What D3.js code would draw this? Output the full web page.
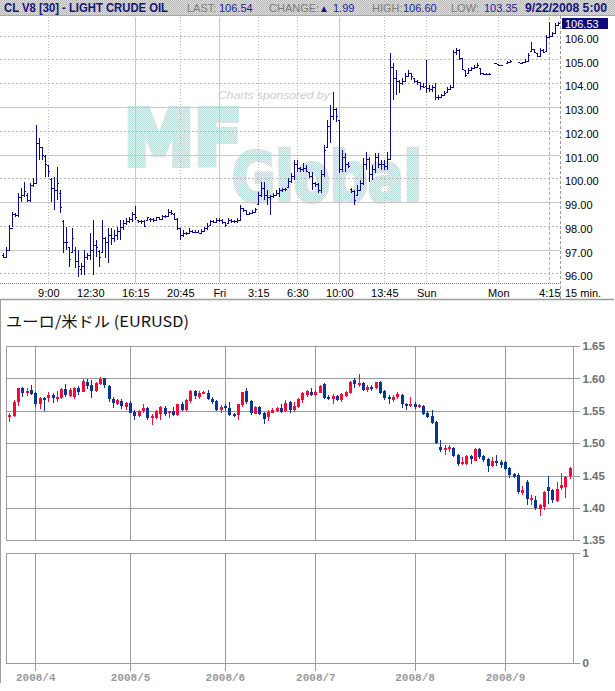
<!DOCTYPE html>
<html><head><meta charset="utf-8">
<script src="https://cdn.jsdelivr.net/npm/d3@7"></script>
<style>body{margin:0;background:#fff}svg{display:block}</style>
</head><body>
<svg id="c" width="615" height="691"></svg>
<script>
// ---------- Crude oil 15-min bars (index-based) ----------
const oilOpen = [96.75,96.70,97.00,97.90,98.50,98.45,99.20,99.30,99.30,99.10,99.70,99.80,101.50,101.30,100.95,100.55,99.95,99.60,99.50,99.40,98.20,97.30,97.10,96.90,97.00,96.50,96.20,96.30,96.70,96.75,97.00,97.20,96.95,96.90,97.50,97.30,97.60,97.50,97.60,97.80,97.95,98.10,98.20,98.30,98.50,98.24,98.20,98.20,98.25,98.30,98.30,98.25,98.35,98.30,98.40,98.40,98.60,98.50,98.30,97.89,97.60,97.70,97.70,97.80,97.75,97.75,97.70,97.80,97.90,98.03,98.20,98.15,98.25,98.25,98.15,98.10,98.25,98.20,98.20,98.25,98.74,98.65,98.50,98.55,98.60,98.90,99.30,99.60,99.30,99.20,99.25,99.30,99.40,99.50,99.55,99.65,99.90,100.10,100.60,100.45,100.40,100.45,100.28,100.10,99.80,99.75,99.50,100.20,101.33,102.20,102.60,102.90,102.45,100.40,100.90,100.60,99.55,99.45,99.30,99.51,99.80,100.60,100.80,100.20,100.40,100.90,100.60,100.60,100.50,100.80,104.70,104.20,104.10,104.00,104.10,104.30,104.42,104.21,104.10,104.05,103.90,103.90,103.80,103.75,103.85,103.40,103.40,103.50,103.65,103.75,103.86,105.30,105.40,105.05,104.56,104.42,104.56,104.65,104.70,104.63,104.45,104.40,104.40,null,104.85,104.80,104.75,null,104.85,104.91,null,null,104.90,104.85,104.90,104.95,105.35,105.43,105.26,105.15,105.40,105.37,105.95,106.00,106.10,106.45];
const oilHigh = [96.84,97.12,98.03,98.60,98.53,99.37,99.58,99.86,99.37,99.79,100.00,102.24,101.68,101.33,100.98,100.56,100.00,100.07,100.49,99.51,98.24,97.96,97.12,97.89,97.12,96.98,96.42,96.98,96.84,97.68,98.24,97.40,96.98,98.24,97.54,97.89,97.89,97.82,97.96,98.24,98.24,98.31,98.39,98.60,98.83,98.24,98.24,98.24,98.39,98.31,98.31,98.39,98.39,98.46,98.46,98.69,98.67,98.53,98.31,97.89,97.82,97.75,97.89,97.82,97.82,97.82,97.85,97.96,98.10,98.24,98.24,98.31,98.31,98.27,98.17,98.31,98.27,98.24,98.31,98.88,98.74,98.67,98.60,98.67,98.74,99.44,99.86,99.86,99.51,99.30,99.37,99.51,99.58,99.58,99.58,100.00,100.21,100.77,100.77,100.49,100.63,100.56,100.28,100.28,99.86,99.79,100.35,101.40,102.45,103.08,103.65,102.94,102.45,101.19,101.05,100.70,99.58,99.51,99.72,99.93,100.84,101.12,100.91,100.56,101.05,101.05,100.77,100.77,101.12,105.26,104.84,104.56,104.14,104.21,104.42,104.56,104.42,104.21,104.14,104.07,104.00,104.98,103.93,103.93,104.00,103.51,103.55,103.69,103.86,103.93,105.40,105.47,105.43,105.05,104.56,104.63,104.70,104.77,104.84,104.63,104.45,104.45,104.42,null,104.87,104.80,104.77,null,104.95,104.98,null,null,104.91,104.91,105.01,105.26,105.75,105.43,105.26,105.47,105.43,106.03,106.59,106.17,106.52,106.59];
const oilLow = [96.63,96.63,96.98,97.96,98.35,98.39,99.02,99.23,99.02,99.02,99.65,99.78,100.77,100.77,100.07,100.07,99.02,98.67,99.09,98.53,96.84,96.98,96.28,96.84,96.21,95.86,95.93,95.93,96.56,96.56,95.93,96.70,96.28,96.84,96.63,96.42,97.19,97.33,97.40,97.40,97.82,98.03,98.10,98.17,98.24,98.13,98.08,97.94,98.24,98.17,98.17,98.24,98.24,98.24,98.31,98.39,98.46,98.24,97.82,97.40,97.54,97.61,97.68,97.68,97.68,97.68,97.68,97.75,97.82,98.03,98.10,98.10,98.17,98.08,97.96,98.10,98.10,98.10,98.10,98.24,98.60,98.46,98.46,98.53,98.60,98.88,99.23,99.09,98.88,98.46,99.16,99.30,99.23,99.44,99.48,99.65,99.79,99.93,100.28,100.28,100.28,100.28,100.00,99.51,99.65,99.37,99.37,100.07,101.33,101.47,102.45,102.38,100.21,100.28,100.28,100.42,99.37,98.88,99.30,99.51,99.72,100.35,99.86,99.93,100.21,100.42,100.35,100.35,100.35,100.77,103.30,103.51,103.58,103.93,104.07,104.28,104.14,104.00,103.93,103.72,103.79,103.58,103.65,103.65,103.30,103.30,103.37,103.46,103.65,103.72,103.86,105.19,104.98,104.56,104.28,104.42,104.56,104.63,104.70,104.35,104.35,104.35,104.35,null,104.81,104.73,104.73,null,104.84,104.91,null,null,104.84,104.84,104.87,104.91,105.33,105.26,105.09,105.12,105.26,105.37,105.89,105.96,106.10,106.45];
const oilClose = [96.70,97.00,97.90,98.50,98.45,99.20,99.30,99.45,99.10,99.70,99.80,101.50,101.30,101.00,100.60,100.30,99.60,99.50,99.80,98.80,97.30,97.30,96.60,97.50,96.50,96.30,96.30,96.70,96.75,97.00,97.20,97.10,96.70,97.50,97.30,97.60,97.50,97.60,97.80,97.95,98.10,98.20,98.30,98.50,98.35,98.20,98.20,98.00,98.35,98.30,98.25,98.35,98.30,98.40,98.40,98.60,98.55,98.30,97.90,97.60,97.70,97.70,97.80,97.75,97.75,97.70,97.80,97.90,98.00,98.20,98.15,98.25,98.25,98.15,98.05,98.25,98.20,98.20,98.25,98.75,98.65,98.50,98.55,98.60,98.70,99.30,99.60,99.30,99.20,99.25,99.30,99.40,99.50,99.55,99.55,99.90,100.10,100.60,100.45,100.40,100.45,100.30,100.10,99.80,99.75,99.50,100.20,101.20,102.20,102.60,102.90,102.60,100.40,100.90,100.60,100.50,99.45,99.10,99.50,99.80,100.60,100.80,100.20,100.40,100.90,100.60,100.60,100.50,100.80,104.70,104.20,104.10,104.00,104.10,104.30,104.45,104.30,104.10,104.05,103.90,103.85,103.80,103.75,103.85,103.40,103.40,103.50,103.60,103.75,103.85,105.30,105.40,105.05,104.60,104.35,104.55,104.65,104.70,104.75,104.45,104.40,104.40,104.40,null,104.85,104.75,104.75,null,104.90,104.95,null,null,104.85,104.90,104.95,105.20,105.45,105.30,105.15,105.40,105.30,105.95,106.00,106.10,106.45,106.53];
const oilPriceTicks = [96,97,98,99,100,101,102,103,104,105,106];
const oilTickIdx = [15,29,44,59,72,85,98,112,127,141,165,182];
const oilTickLabels = ["9:00","12:30","16:15","20:45","Fri","3:15","6:30","10:00","13:45","Sun","Mon","4:15"];
const oilLast = 106.53;

// ---------- EUR/USD daily candles ----------
const eurOpen = [1.5416,1.5416,1.5623,1.5855,1.5778,1.5819,1.5778,1.5612,1.5700,1.5690,1.5742,1.5695,1.5700,1.5829,1.5731,1.5705,1.5855,1.5793,1.5948,1.5896,1.5804,1.5907,1.6000,1.5886,1.5680,1.5602,1.5649,1.5561,1.5623,1.5484,1.5422,1.5494,1.5545,1.5391,1.5391,1.5447,1.5545,1.5468,1.5494,1.5432,1.5597,1.5509,1.5649,1.5809,1.5716,1.5757,1.5778,1.5680,1.5654,1.5520,1.5571,1.5545,1.5447,1.5422,1.5576,1.5804,1.5649,1.5458,1.5561,1.5468,1.5406,1.5468,1.5499,1.5545,1.5494,1.5638,1.5509,1.5561,1.5664,1.5742,1.5788,1.5742,1.5783,1.5907,1.5716,1.5680,1.5731,1.5664,1.5731,1.5778,1.5974,1.5907,1.5932,1.5819,1.5860,1.5845,1.5948,1.5804,1.5705,1.5664,1.5705,1.5742,1.5602,1.5587,1.5612,1.5561,1.5571,1.5468,1.5416,1.5329,1.4942,1.4916,1.4916,1.4926,1.4813,1.4684,1.4673,1.4797,1.4735,1.4916,1.4802,1.4751,1.4642,1.4720,1.4704,1.4704,1.4611,1.4529,1.4503,1.4230,1.4395,1.4126,1.4116,1.3972,1.4013,1.4322,1.4271,1.4106,1.4307,1.4322,1.4493];
const eurHigh = [1.5468,1.5664,1.5855,1.5870,1.5845,1.5896,1.5793,1.5716,1.5716,1.5793,1.5767,1.5809,1.5845,1.5912,1.5855,1.5870,1.5881,1.5984,1.5984,1.5974,1.5938,1.6020,1.6005,1.5896,1.5716,1.5674,1.5674,1.5638,1.5649,1.5509,1.5509,1.5602,1.5561,1.5447,1.5509,1.5576,1.5576,1.5499,1.5561,1.5612,1.5638,1.5674,1.5819,1.5819,1.5804,1.5809,1.5819,1.5716,1.5664,1.5587,1.5602,1.5638,1.5458,1.5612,1.5793,1.5845,1.5664,1.5571,1.5571,1.5484,1.5509,1.5545,1.5561,1.5597,1.5664,1.5654,1.5638,1.5700,1.5793,1.5819,1.5845,1.5819,1.5896,1.5922,1.5742,1.5757,1.5742,1.5767,1.5809,1.5958,1.6000,1.6061,1.5948,1.5896,1.5896,1.5948,1.5958,1.5819,1.5742,1.5742,1.5783,1.5757,1.5623,1.5705,1.5638,1.5597,1.5587,1.5494,1.5509,1.5339,1.5045,1.4968,1.4978,1.4942,1.4829,1.4787,1.4813,1.4823,1.4926,1.4932,1.4823,1.4771,1.4787,1.4813,1.4735,1.4720,1.4632,1.4545,1.4545,1.4338,1.4436,1.4193,1.4178,1.4064,1.4261,1.4493,1.4297,1.4400,1.4545,1.4488,1.4632];
const eurLow = [1.5329,1.5406,1.5576,1.5716,1.5731,1.5742,1.5561,1.5525,1.5499,1.5638,1.5623,1.5638,1.5680,1.5716,1.5716,1.5674,1.5742,1.5783,1.5829,1.5700,1.5793,1.5896,1.5845,1.5638,1.5545,1.5587,1.5525,1.5509,1.5458,1.5365,1.5406,1.5468,1.5365,1.5287,1.5370,1.5354,1.5422,1.5391,1.5416,1.5416,1.5499,1.5499,1.5623,1.5680,1.5685,1.5752,1.5664,1.5612,1.5494,1.5458,1.5499,1.5416,1.5406,1.5354,1.5561,1.5612,1.5432,1.5447,1.5432,1.5303,1.5344,1.5458,1.5484,1.5468,1.5478,1.5473,1.5484,1.5535,1.5623,1.5716,1.5726,1.5726,1.5767,1.5674,1.5664,1.5602,1.5649,1.5638,1.5716,1.5757,1.5845,1.5870,1.5809,1.5793,1.5809,1.5829,1.5757,1.5664,1.5612,1.5638,1.5680,1.5535,1.5509,1.5561,1.5520,1.5535,1.5432,1.5396,1.5292,1.4993,1.4864,1.4812,1.4864,1.4787,1.4642,1.4658,1.4658,1.4684,1.4720,1.4761,1.4710,1.4555,1.4632,1.4642,1.4622,1.4591,1.4462,1.4462,1.4209,1.4193,1.4038,1.4038,1.3961,1.3868,1.3972,1.4064,1.4080,1.4090,1.4281,1.4147,1.4441];
const eurClose = [1.5432,1.5633,1.5845,1.5778,1.5809,1.5757,1.5612,1.5700,1.5664,1.5742,1.5700,1.5716,1.5834,1.5731,1.5819,1.5845,1.5793,1.5958,1.5881,1.5809,1.5922,1.5989,1.5886,1.5680,1.5623,1.5664,1.5571,1.5623,1.5468,1.5422,1.5494,1.5545,1.5391,1.5422,1.5499,1.5561,1.5447,1.5489,1.5432,1.5597,1.5509,1.5664,1.5809,1.5731,1.5778,1.5788,1.5680,1.5628,1.5509,1.5561,1.5540,1.5442,1.5416,1.5597,1.5783,1.5638,1.5458,1.5561,1.5447,1.5370,1.5484,1.5509,1.5545,1.5484,1.5623,1.5509,1.5571,1.5680,1.5767,1.5804,1.5742,1.5793,1.5886,1.5690,1.5700,1.5726,1.5664,1.5752,1.5793,1.5948,1.5907,1.5932,1.5829,1.5860,1.5829,1.5938,1.5778,1.5690,1.5674,1.5705,1.5757,1.5597,1.5587,1.5612,1.5561,1.5587,1.5447,1.5406,1.5313,1.5004,1.4890,1.4926,1.4942,1.4797,1.4673,1.4710,1.4797,1.4746,1.4916,1.4787,1.4735,1.4642,1.4720,1.4684,1.4658,1.4601,1.4503,1.4477,1.4245,1.4271,1.4126,1.4147,1.3987,1.4039,1.4245,1.4260,1.4116,1.4297,1.4348,1.4477,1.4617];
const eurPriceTicks = [1.35,1.40,1.45,1.50,1.55,1.60,1.65];
const eurMonthIdx = [6,28,50,71,94,115];
const eurMonthLabels = ["2008/4","2008/5","2008/6","2008/7","2008/8","2008/9"];
const volTicks = [0,1];

const svg = d3.select("#c");
const defs = svg.append("defs");
const hp = defs.append("pattern").attr("id","hdr").attr("width",2).attr("height",2).attr("patternUnits","userSpaceOnUse");
hp.append("rect").attr("width",2).attr("height",2).attr("fill","#e2e2e2");
hp.append("rect").attr("x",0).attr("y",0).attr("width",1).attr("height",1).attr("fill","#b4b4b4");
hp.append("rect").attr("x",1).attr("y",1).attr("width",1).attr("height",1).attr("fill","#b4b4b4");
const mp = defs.append("pattern").attr("id","mf").attr("width",2).attr("height",2).attr("patternUnits","userSpaceOnUse");
mp.append("rect").attr("width",2).attr("height",2).attr("fill","#eaeff0");
mp.append("rect").attr("x",0).attr("y",0).attr("width",1).attr("height",1).attr("fill","#c0dde5");
mp.append("rect").attr("x",1).attr("y",1).attr("width",1).attr("height",1).attr("fill","#c8cfd2");

// ---------- header ----------
svg.append("rect").attr("x",0).attr("y",0).attr("width",615).attr("height",15).attr("fill","url(#hdr)");
svg.append("line").attr("x1",0).attr("x2",615).attr("y1",15.5).attr("y2",15.5).attr("stroke","#a8a8a8");
const hf = "Liberation Sans, Arial, sans-serif";
function htext(x, t, opts) {
  const e = svg.append("text").attr("x",x).attr("y",12).attr("font-family",hf)
    .attr("font-size",opts.size||11).attr("fill",opts.fill).text(t);
  if (opts.bold) e.attr("font-weight","bold");
  if (opts.len) e.attr("textLength",opts.len).attr("lengthAdjust","spacingAndGlyphs");
  return e;
}
htext(4,"CL V8 [30] - LIGHT CRUDE OIL",{size:12,bold:true,fill:"#14147e",len:164});
htext(187,"LAST:",{fill:"#7c7c7c"});
htext(219,"106.54",{fill:"#1c1ca0"});
htext(269,"CHANGE:",{fill:"#7c7c7c"});
htext(319,"▲",{fill:"#14147e",size:10});
htext(333,"1.99",{fill:"#1c1ca0"});
htext(372,"HIGH:",{fill:"#7c7c7c"});
htext(403,"106.60",{fill:"#1c1ca0"});
htext(451,"LOW:",{fill:"#7c7c7c"});
htext(484,"103.35",{fill:"#1c1ca0"});
htext(525,"9/22/2008 5:00",{size:12.5,bold:true,fill:"#14147e",len:82});

// ---------- crude chart ----------
const xOil = d3.scaleLinear().domain([0,185]).range([3.3,558.3]);
const yOil = d3.scaleLinear().domain([96,106]).range([273.3,35.7]);
const gOil = svg.append("g");

// watermark
gOil.append("text").attr("x",218).attr("y",99).attr("font-family",hf).attr("font-style","italic")
  .attr("font-size",11.5).attr("fill","#cdcdcd").attr("textLength",115).attr("lengthAdjust","spacingAndGlyphs")
  .text("Charts sponsored by:");
gOil.append("text").attr("x",124).attr("y",165).attr("font-family","DejaVu Sans, sans-serif").attr("font-weight","bold")
  .attr("font-size",76).attr("fill","url(#mf)").attr("stroke","url(#mf)").attr("stroke-width",6).attr("stroke-linejoin","miter")
  .attr("textLength",118).attr("lengthAdjust","spacingAndGlyphs").text("MF");
gOil.append("text").attr("x",232).attr("y",201).attr("font-family","DejaVu Sans, sans-serif").attr("font-weight","bold")
  .attr("font-size",67).attr("fill","url(#mf)").attr("stroke","url(#mf)").attr("stroke-width",4)
  .attr("textLength",190).attr("lengthAdjust","spacingAndGlyphs").text("Global");

// horizontal grid
const solidH = new Set([97,99,101,103]);
oilPriceTicks.forEach(v => {
  const y = Math.round(yOil(v)) + 0.5;
  gOil.append("line").attr("x1",0).attr("x2",560).attr("y1",y).attr("y2",y)
    .attr("stroke", solidH.has(v) ? "#c8c8c8" : "#b8b8b8")
    .attr("stroke-dasharray", solidH.has(v) ? null : "2,2");
});
// vertical grid
const solidV = new Set(["16:15","Fri","10:00"]);
oilTickIdx.forEach((idx,i) => {
  const lab = oilTickLabels[i];
  if (lab === "12:30") return;
  const x = Math.round(xOil(idx)) + 0.5;
  let dash = "1,2", col = "#b8b8b8";
  if (solidV.has(lab)) { dash = null; col = "#c8c8c8"; }
  if (lab === "4:15") { dash = "3,2"; col = "#b0b0b0"; }
  gOil.append("line").attr("x1",x).attr("x2",x).attr("y1",17).attr("y2",283)
    .attr("stroke",col).attr("stroke-dasharray",dash);
});
// borders
gOil.append("line").attr("x1",560.5).attr("x2",560.5).attr("y1",16).attr("y2",299).attr("stroke","#9a9a9a").attr("stroke-dasharray","3,2");
gOil.append("line").attr("x1",0).attr("x2",560).attr("y1",283.5).attr("y2",283.5).attr("stroke","#808080").attr("stroke-dasharray","1,1");

// bars
const oilIdx = d3.range(oilClose.length).filter(i => oilClose[i] !== null);
const barG = gOil.append("g").attr("stroke","#0a0a8a").attr("stroke-width",1).attr("fill","none").attr("shape-rendering","crispEdges");
barG.selectAll("path").data(oilIdx).join("path").attr("d", i => {
  const x = Math.round(xOil(i)) + 0.5;
  const yh = Math.round(yOil(oilHigh[i])), yl = Math.round(yOil(oilLow[i]));
  const yo = Math.round(yOil(oilOpen[i])) + 0.5, yc = Math.round(yOil(oilClose[i])) + 0.5;
  return `M${x},${yh}V${Math.max(yl, yh+1)}M${x-1.5},${yo}H${x}M${x},${yc}H${x+1.5}`;
});

// axes
const ayOil = gOil.append("g").attr("transform","translate(560,0)")
  .call(d3.axisRight(yOil).tickValues(oilPriceTicks).tickFormat(d3.format(".2f")).tickSize(0).tickPadding(5));
ayOil.select(".domain").remove();
ayOil.selectAll("text").attr("font-family",hf).attr("font-size",11).attr("fill","#000").attr("dy","0.6em");
const axOil = gOil.append("g").attr("transform","translate(0,283)")
  .call(d3.axisBottom(xOil).tickValues(oilTickIdx).tickFormat((d,i) => oilTickLabels[i]).tickSize(0).tickPadding(6));
axOil.select(".domain").remove();
axOil.selectAll("text").attr("font-family",hf).attr("font-size",11).attr("fill","#000");
gOil.append("text").attr("x",565).attr("y",297).attr("font-family",hf).attr("font-size",11).attr("fill","#000").text("15 min.");
// last price box
const yl = yOil(oilLast);
gOil.append("rect").attr("x",562).attr("y",Math.round(yl)-5).attr("width",46).attr("height",11).attr("fill","#0c0c78");
gOil.append("text").attr("x",565).attr("y",Math.round(yl)+4.5).attr("font-family",hf).attr("font-size",11).attr("fill","#fff").text(d3.format(".2f")(oilLast));

// ---------- EUR/USD section ----------
svg.append("line").attr("x1",0).attr("x2",614).attr("y1",299.5).attr("y2",299.5).attr("stroke","#9c9c9c").attr("stroke-width",1.5);
svg.append("line").attr("x1",0.5).attr("x2",0.5).attr("y1",299).attr("y2",683).attr("stroke","#9c9c9c");
svg.append("text").attr("x",6).attr("y",327).attr("font-family","Noto Sans CJK JP, sans-serif").attr("font-size",15)
  .attr("fill","#111").attr("textLength",183).attr("lengthAdjust","spacingAndGlyphs").text("ユーロ/米ドル (EURUSD)");

const xEur = d3.scaleLinear().domain([0,130]).range([9.4, 9.4 + 4.31*130]);
const yEur = d3.scaleLinear().domain([1.35,1.65]).range([540.3,346]);
const yVol = d3.scaleLinear().domain([0,1]).range([662.7,553]);
const L = 6.5, R = 573.5;
const gE = svg.append("g").attr("shape-rendering","crispEdges");
const gc = "#9a9a9a";
// panel 1 grid
eurPriceTicks.forEach(v => {
  const y = Math.round(yEur(v)) + 0.5;
  gE.append("line").attr("x1",L).attr("x2",R).attr("y1",y).attr("y2",y).attr("stroke",gc);
});
eurMonthIdx.forEach(k => {
  const x = Math.round(xEur(k)) + 0.5;
  gE.append("line").attr("x1",x).attr("x2",x).attr("y1",yEur(1.65)).attr("y2",yEur(1.35)).attr("stroke",gc);
  gE.append("line").attr("x1",x).attr("x2",x).attr("y1",yVol(1)).attr("y2",yVol(0)+8).attr("stroke",gc);
});
gE.append("rect").attr("x",L).attr("y",Math.round(yEur(1.65))+0.5).attr("width",R-L).attr("height",Math.round(yEur(1.35))-Math.round(yEur(1.65))).attr("fill","none").attr("stroke",gc);
gE.append("rect").attr("x",L).attr("y",Math.round(yVol(1))+0.5).attr("width",R-L).attr("height",Math.round(yVol(0))-Math.round(yVol(1))).attr("fill","none").attr("stroke",gc);

// candles
const up = "#f50a3c", dn = "#0a3596";
const cg = gE.append("g");
cg.selectAll("g").data(d3.range(eurClose.length)).join("g").each(function(k) {
  const g = d3.select(this);
  const col = eurClose[k] >= eurOpen[k] ? up : dn;
  const x = Math.round(xEur(k));
  g.append("line").attr("x1",x+0.5).attr("x2",x+0.5).attr("y1",yEur(eurHigh[k])).attr("y2",yEur(eurLow[k])).attr("stroke",col);
  const yt = yEur(Math.max(eurOpen[k],eurClose[k])), yb = yEur(Math.min(eurOpen[k],eurClose[k]));
  g.append("rect").attr("x",x-1).attr("y",Math.round(yt)).attr("width",3).attr("height",Math.max(2,Math.round(yb-yt))).attr("fill",col);
});

// axes
const lf = "Liberation Sans, Arial, sans-serif";
const ay1 = gE.append("g").attr("transform",`translate(${R},0)`)
  .call(d3.axisRight(yEur).tickValues(eurPriceTicks).tickFormat(d3.format(".2f")).tickSize(6).tickPadding(3));
ay1.select(".domain").remove();
ay1.selectAll("line").attr("stroke",gc);
ay1.selectAll("text").attr("font-family",lf).attr("font-weight","bold").attr("font-size",11.5).attr("fill","#6e6e6e");
const ay2 = gE.append("g").attr("transform",`translate(${R},0)`)
  .call(d3.axisRight(yVol).tickValues(volTicks).tickFormat(d3.format("d")).tickSize(6).tickPadding(3));
ay2.select(".domain").remove();
ay2.selectAll("line").attr("stroke",gc);
ay2.selectAll("text").attr("font-family",lf).attr("font-weight","bold").attr("font-size",11.5).attr("fill","#6e6e6e");
const ax2 = gE.append("g").attr("transform",`translate(0,${Math.round(yVol(0))})`)
  .call(d3.axisBottom(xEur).tickValues(eurMonthIdx).tickFormat((d,i) => eurMonthLabels[i]).tickSize(0).tickPadding(10));
ax2.select(".domain").remove();
ax2.selectAll("text").attr("font-family","Liberation Mono, monospace").attr("font-weight","bold").attr("font-size",11).attr("fill","#9a9a9a");
</script>
</body></html>
